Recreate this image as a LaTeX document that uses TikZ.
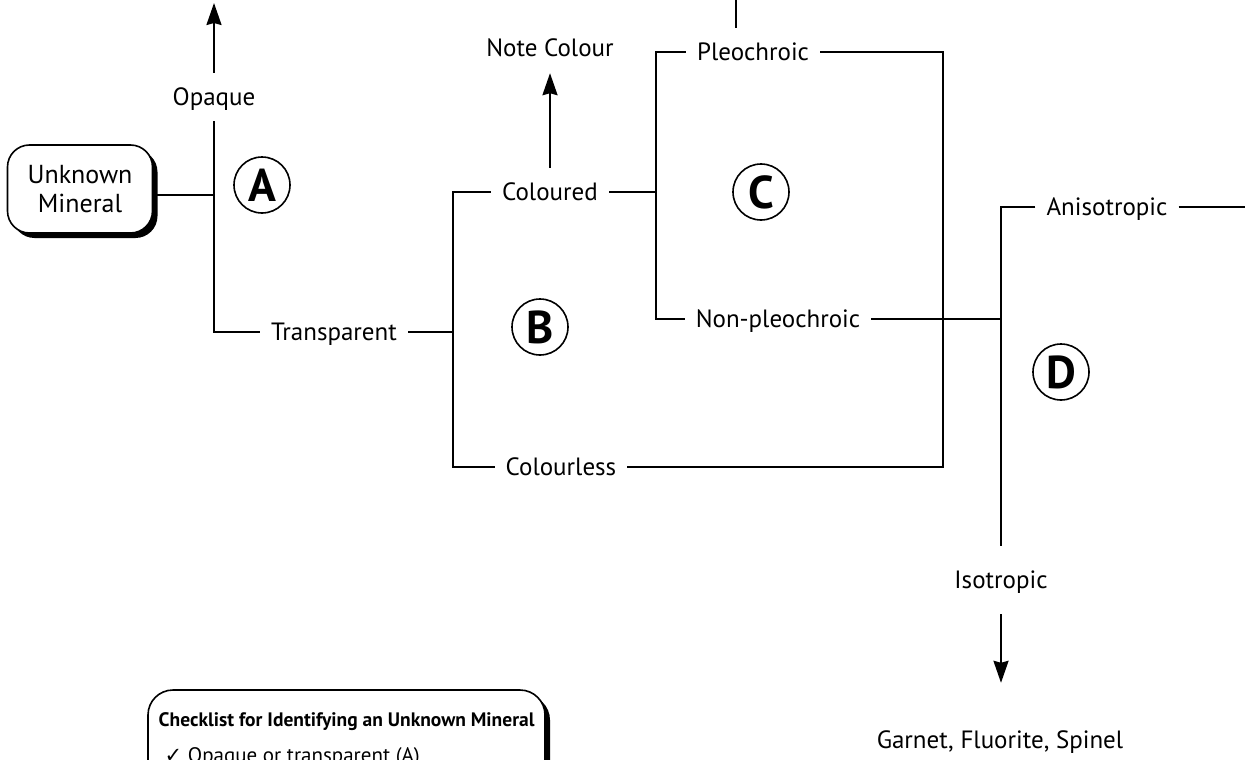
\documentclass[tikz,border=0pt]{standalone}
\usepackage{fontspec}
\setmainfont{PT Sans}
\newfontfamily\checkfont{DejaVu Sans}
\usetikzlibrary{positioning}
\usetikzlibrary{arrows.meta}
\usetikzlibrary{calc, shapes, fit, shadows}
\tikzset{%
	% Specifications for style of nodes:
	base/.style = {inner xsep=11pt, inner ysep=12pt, text height=20pt, text depth=4pt},
	branch/.style = {base},
	marker/.style = {circle, draw=black, line width=1.6pt, minimum size=56pt, inner sep=0pt,
		font=\fontsize{46pt}{46pt}\selectfont\bfseries},
	startbox/.style = {rectangle, rounded corners=22pt, draw=black, line width=1.6pt, fill=white,
		align=center, minimum width=145pt, minimum height=88pt,
		font=\fontsize{26pt}{29pt}\selectfont,
		drop shadow={opacity=1, fill=black, shadow xshift=5pt, shadow yshift=-5pt}},
	checkbox/.style = {rectangle, rounded corners=25pt, draw=black, line width=1.6pt, fill=white,
		inner sep=0pt, drop shadow={opacity=1, fill=black, shadow xshift=5pt, shadow yshift=-5pt}},
	link/.style = {line width=2.2pt},
	pointer/.style = {link, -{Stealth[length=22pt, width=15pt, inset=2pt]}}
}

\begin{document}
\begin{tikzpicture}[x=1pt, y=-1pt, every node/.style={font=\fontsize{25pt}{29pt}\selectfont}]
	\useasboundingbox (0,0) rectangle (1245,760);
	\clip (0,0) rectangle (1245,760);
	%% Start
	\node [startbox] (unknown) at (80,189) {Unknown\\Mineral};
	\node [branch] (opaque) at (214,97) {Opaque};
	\node [marker] (markA) at (262,185) {A};
	\node [branch] (transparent) at (334,332) {Transparent};
	\coordinate (opaqueOut) at (214,3);
	\coordinate (splitA) at (214,195);
	\draw [pointer] (opaque.north) -- (opaqueOut);
	\draw [link] (unknown.east |- splitA) -- (splitA);
	\draw [link] (opaque.south) |- (transparent.west);
	%% Colour
	\node [branch] (coloured) at (550,192) {Coloured};
	\node [branch] (noteColour) at (550,49) {Note Colour};
	\node [branch] (colourless) at (561,467) {Colourless};
	\node [marker] (markB) at (540,327) {B};
	\coordinate (splitB) at (453,332);
	\draw [link] (transparent.east) -- (splitB);
	\draw [link] (coloured.west) -| (splitB) |- (colourless.west);
	\draw [pointer] (coloured.north) -- (noteColour.south);
	%% Pleochroism
	\node [branch] (pleochroic) at (753,52) {Pleochroic};
	\node [branch] (nonPleochroic) at (778,319) {Non-pleochroic};
	\node [marker] (markC) at (761,192) {C};
	\coordinate (splitC) at (656,192);
	\coordinate (railC) at (943,260);
	\coordinate (pleoIn) at (736,-5);
	\draw [link] (pleoIn) -- (pleoIn |- pleochroic.north);
	\draw [link] (coloured.east) -- (splitC);
	\draw [link] (pleochroic.west) -| (splitC) |- (nonPleochroic.west);
	\draw [link] (pleochroic.east) -| (railC) |- (colourless.east);
	%% Extinction
	\node [branch] (anisotropic) at (1107,207) {Anisotropic};
	\node [branch, inner ysep=22pt] (isotropic) at (1001,580) {Isotropic};
	\node [branch, inner ysep=45pt] (garnet) at (1000,740) {Garnet, Fluorite, Spinel};
	\node [marker] (markD) at (1061,372) {D};
	\coordinate (anisoOut) at (1250,207);
	\draw [link] (nonPleochroic.east) -- (nonPleochroic.east -| isotropic.north);
	\draw [link] (anisotropic.west) -| (isotropic.north);
	\draw [link] (anisotropic.east) -- (anisoOut);
	\draw [pointer] (isotropic.south) -- (isotropic.south |- garnet.north);
	%% Checklist
	\coordinate (checkNW) at (148,690);
	\coordinate (checkSE) at (545,820);
	\node [checkbox, fit=(checkNW) (checkSE)] (checklist) {};
	\node [anchor=base west, font=\fontsize{19.5pt}{24pt}\selectfont\bfseries] (checkTitle)
		at ($(checklist.north west)+(8,37)$) {Checklist for Identifying an Unknown Mineral};
	\node [anchor=base west, font=\fontsize{21pt}{25pt}\selectfont] (checkOpaque)
		at ($(checkTitle.base west)+(6,36)$) {{\checkfont ✓} Opaque or transparent (A)};
\end{tikzpicture}
\end{document}
